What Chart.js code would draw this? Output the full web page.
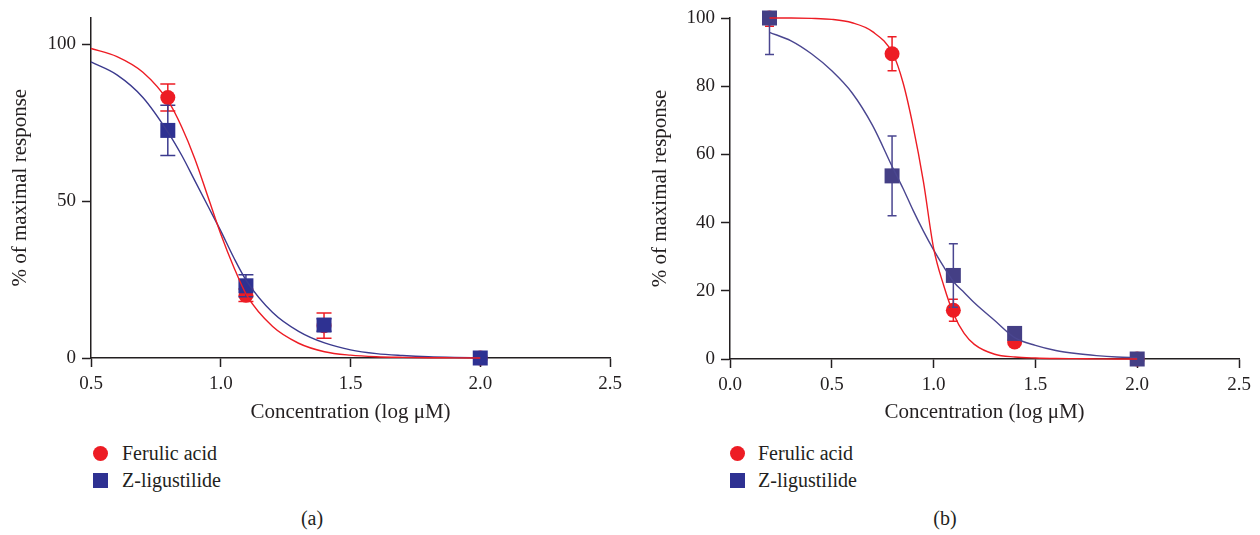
<!DOCTYPE html>
<html>
<head>
<meta charset="utf-8">
<script src="https://cdn.jsdelivr.net/npm/chart.js@4.4.1/dist/chart.umd.min.js"></script>
<style>
  body { margin: 0; width: 1260px; height: 535px; background: #fff; position: relative; overflow: hidden;
         font-family: "Liberation Serif", "DejaVu Serif", serif; color: #231f20; }
  canvas { position: absolute; top: 0; }
  #chartA { left: 0; }
  #chartB { left: 640px; }
  .lg { position: absolute; font-size: 20px; line-height: 24px; white-space: nowrap; }
  .mk { position: absolute; width: 15px; height: 15px; }
  .cap { position: absolute; font-size: 20px; transform: translateX(-50%); }
</style>
</head>
<body>
<canvas id="chartA" width="640" height="425"></canvas>
<canvas id="chartB" width="620" height="425"></canvas>

<div class="mk" style="left:93px;top:446px;background:#ED1C24;border-radius:50%"></div>
<div class="lg" style="left:122px;top:441px">Ferulic acid</div>
<div class="mk" style="left:93px;top:473px;background:#2E3192"></div>
<div class="lg" style="left:122px;top:468px">Z-ligustilide</div>
<div class="cap" style="left:312px;top:507px">(a)</div>

<div class="mk" style="left:730px;top:446px;background:#ED1C24;border-radius:50%"></div>
<div class="lg" style="left:758px;top:441px">Ferulic acid</div>
<div class="mk" style="left:730px;top:473px;background:#2E3192"></div>
<div class="lg" style="left:758px;top:468px">Z-ligustilide</div>
<div class="cap" style="left:945px;top:507px">(b)</div>

<script>
// panel (a) measured points
const concA = [0.796, 1.097, 1.398, 2.0];
const ferulicA = [83, 20, 10.3, 0];
const ferulicErrA = [4.3, 2, 4, 0];
const ligustA = [72.5, 23, 10.5, 0];
const ligustErrA = [8, 3.5, 2, 0];

// panel (a) fitted curves
const fitXA = [0.5, 0.6, 0.7, 0.8, 0.85, 0.9, 0.95, 1.0, 1.05, 1.1, 1.2, 1.3, 1.4, 1.5, 1.6, 1.7, 1.8, 1.9, 2.0];
const ferulicFitA = [98.6, 96, 91, 81.5, 73.5, 63.5, 51.5, 39.5, 29, 20, 10, 4.7, 2.0, 0.9, 0.4, 0.2, 0.1, 0.05, 0];
const ligustFitA = [94.3, 90.2, 83, 71.5, 64.5, 56.5, 48.5, 40.5, 32, 24.5, 14.5, 8.5, 4.8, 2.6, 1.4, 0.8, 0.4, 0.2, 0.1];

// panel (b) measured points
const concB = [0.194, 0.796, 1.097, 1.398, 2.0];
const ferulicB = [100, 89.5, 14.3, 5, 0];
const ferulicErrB = [2.4, 5, 3.2, 0, 0];
const ligustB = [100, 53.7, 24.5, 7.5, 0];
const ligustErrB = [10.7, 11.7, 9.3, 0, 0];

// panel (b) fitted curves
const fitXB = [0.194, 0.3, 0.4, 0.5, 0.6, 0.7, 0.8, 0.85, 0.9, 0.95, 1.0, 1.05, 1.1, 1.15, 1.2, 1.3, 1.4, 1.5, 1.6, 1.7, 1.8, 1.9, 2.0];
const ferulicFitB = [100, 100, 99.9, 99.6, 98.6, 96, 89.5, 81, 68, 52, 32.5, 21.5, 13, 7.5, 4.3, 1.4, 0.6, 0.3, 0.15, 0.1, 0.05, 0, 0];
const ligustFitB = [95.8, 93.3, 89.5, 84.5, 78, 68.5, 56, 50, 43.5, 37.5, 32, 27, 22.5, 19.5, 16.5, 11.3, 6.2, 4, 2.5, 1.6, 1, 0.6, 0.4];

const xTicksA = [0.5, 1.0, 1.5, 2.0, 2.5];
const yTicksA = [0, 50, 100];
const xTicksB = [0.0, 0.5, 1.0, 1.5, 2.0, 2.5];
const yTicksB = [0, 20, 40, 60, 80, 100];

const RED = '#ED1C24';
const INK = '#231f20';

const pts = (xs, ys) => xs.map((x, i) => ({ x: x, y: ys[i] }));

// error bars drawn just before each dataset's markers
const errorBars = {
  id: 'errorBars',
  beforeDatasetDraw(chart, args) {
    const ds = chart.data.datasets[args.index];
    if (!ds.errors) return;
    const { ctx, chartArea, scales: { x, y } } = chart;
    ctx.save();
    ctx.beginPath();
    ctx.rect(chartArea.left - 20, chartArea.top, chartArea.width + 40, chartArea.height);
    ctx.clip();
    ctx.strokeStyle = ds.errorColor;
    ctx.lineWidth = 1.5;
    ds.data.forEach((p, i) => {
      const e = ds.errors[i];
      if (!e) return;
      const px = x.getPixelForValue(p.x);
      const t = y.getPixelForValue(p.y + e);
      const b = y.getPixelForValue(p.y - e);
      const w = ds.capWidth / 2;
      ctx.beginPath();
      ctx.moveTo(px, t); ctx.lineTo(px, b);
      ctx.moveTo(px - w, t); ctx.lineTo(px + w, t);
      ctx.moveTo(px - w, b); ctx.lineTo(px + w, b);
      ctx.stroke();
    });
    ctx.restore();
  }
};

function axis(min, max, ticks, fmt, title, fit) {
  return {
    type: 'linear', min: min, max: max,
    afterBuildTicks: s => { s.ticks = ticks.map(v => ({ value: v })); },
    afterFit: fit,
    ticks: { color: INK, font: { family: 'Liberation Serif', size: 19 }, padding: 6, callback: fmt },
    grid: { drawOnChartArea: false, tickLength: 9, tickColor: INK, tickWidth: 1.5 },
    border: { display: true, color: INK, width: 1.5 },
    title: { display: true, text: title, color: INK, font: { family: 'Liberation Serif', size: 21 }, padding: { top: 8, bottom: 0 } }
  };
}

function makeChart(id, p) {
  new Chart(document.getElementById(id), {
    type: 'scatter',
    data: {
      datasets: [
        { data: pts(p.fitX, p.ferFit), showLine: true, borderColor: RED, borderWidth: 1.4,
          pointRadius: 0, cubicInterpolationMode: 'monotone', order: 0, clip: false },
        { data: pts(p.fitX, p.ligFit), showLine: true, borderColor: p.blueLine, borderWidth: 1.4,
          pointRadius: 0, cubicInterpolationMode: 'monotone', order: 1, clip: false },
        { data: pts(p.conc, p.lig), errors: p.ligErr, errorColor: p.blueLine, capWidth: p.cap,
          pointStyle: 'rect', pointRadius: 10.6, backgroundColor: p.blue, borderWidth: 0, order: 2, clip: false },
        { data: pts(p.conc, p.fer), errors: p.ferErr, errorColor: RED, capWidth: p.cap,
          pointStyle: 'circle', pointRadius: 7.5, backgroundColor: RED, borderWidth: 0, order: 3, clip: false }
      ]
    },
    options: {
      responsive: false,
      animation: false,
      layout: { padding: p.pad },
      plugins: { legend: { display: false }, tooltip: { enabled: false } },
      scales: {
        x: axis(p.xMin, 2.5, p.xTicks, v => v.toFixed(1), 'Concentration (log \u03bcM)', s => { s.height = p.xH; }),
        y: axis(0, p.yMax, p.yTicks, v => v, '% of maximal response', s => { s.width = p.yW; })
      }
    },
    plugins: [errorBars]
  });
}

makeChart('chartA', {
  conc: concA, fer: ferulicA, ferErr: ferulicErrA, lig: ligustA, ligErr: ligustErrA,
  fitX: fitXA, ferFit: ferulicFitA, ligFit: ligustFitA,
  xMin: 0.5, yMax: 108.5, xTicks: xTicksA, yTicks: yTicksA,
  blue: '#2E3192', blueLine: '#3B3A8E', cap: 15,
  pad: { top: 16, right: 30, left: 0, bottom: 0 }, xH: 67, yW: 91
});

makeChart('chartB', {
  conc: concB, fer: ferulicB, ferErr: ferulicErrB, lig: ligustB, ligErr: ligustErrB,
  fitX: fitXB, ferFit: ferulicFitB, ligFit: ligustFitB,
  xMin: 0, yMax: 100, xTicks: xTicksB, yTicks: yTicksB,
  blue: '#443F85', blueLine: '#4A4690', cap: 9,
  pad: { top: 18, right: 21, left: 0, bottom: 0 }, xH: 66, yW: 90
});
</script>
</body>
</html>
